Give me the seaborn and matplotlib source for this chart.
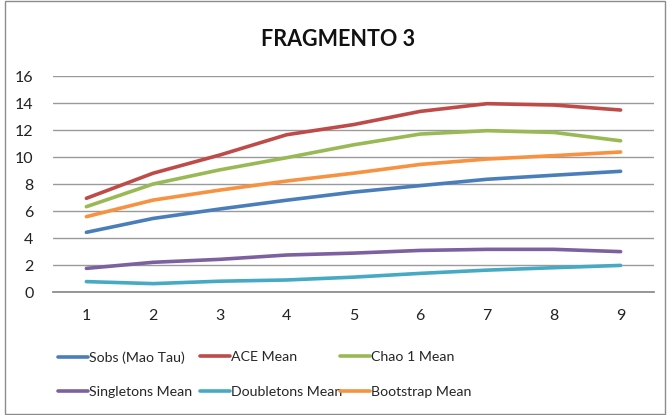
import pandas as pd
import matplotlib
matplotlib.use("Agg")
import matplotlib.pyplot as plt
from matplotlib.patches import Rectangle
import seaborn as sns

# ── data ────────────────────────────────────────────────────────────────────
muestras = [1, 2, 3, 4, 5, 6, 7, 8, 9]
sobs = [4.42, 5.45, 6.15, 6.8, 7.4, 7.88, 8.35, 8.65, 8.94]
ace = [6.94, 8.8, 10.15, 11.65, 12.4, 13.38, 13.95, 13.85, 13.48]
chao1 = [6.32, 8.0, 9.05, 9.95, 10.9, 11.7, 11.95, 11.82, 11.2]
singletons = [1.75, 2.2, 2.42, 2.74, 2.88, 3.08, 3.16, 3.16, 2.99]
doubletons = [0.77, 0.62, 0.8, 0.89, 1.1, 1.38, 1.62, 1.8, 1.97]
bootstrap = [5.58, 6.81, 7.55, 8.22, 8.8, 9.45, 9.85, 10.1, 10.37]

series = {
    "Sobs (Mao Tau)": sobs,
    "ACE Mean": ace,
    "Chao 1 Mean": chao1,
    "Singletons Mean": singletons,
    "Doubletons Mean": doubletons,
    "Bootstrap Mean": bootstrap,
}
colores = ["#4A7EBB", "#BE4B48", "#98B954", "#7D60A0", "#46AAC5", "#F69240"]

df = pd.DataFrame(
    [(x, nombre, v) for nombre, vals in series.items() for x, v in zip(muestras, vals)],
    columns=["muestra", "serie", "valor"],
)

sns.set_theme(style="white")
plt.rcParams["font.family"] = ["Lato", "DejaVu Sans"]

fig = plt.figure(figsize=(6.67, 4.15), dpi=100)
ax = fig.add_axes([53 / 667, 123 / 415, 601 / 667, 216 / 415])

sns.lineplot(data=df, x="muestra", y="valor", hue="serie",
             palette=colores, linewidth=2.6, ax=ax, legend=True)

ax.set_xlim(0.5, 9.5)
ax.set_ylim(0, 16)
ax.set_yticks(range(0, 17, 2))
ax.set_xticks(muestras)
ax.yaxis.grid(True, color="#9a9a9a", linewidth=1)
ax.set_axisbelow(True)
for s in ["top", "right", "left"]:
    ax.spines[s].set_visible(False)
ax.spines["bottom"].set_color("#8a8a8a")
ax.tick_params(axis="both", length=0, labelsize=11.5, colors="#222222")
ax.tick_params(axis="x", pad=12)
ax.tick_params(axis="y", pad=14)
ax.set_xlabel("")
ax.set_ylabel("")

# legend: three columns placed like Excel's layout
handles, labels = ax.get_legend_handles_labels()
ax.get_legend().remove()
columnas = [(0, 3), (1, 4), (2, 5)]
x_cols = [58, 200, 340]
for (a, b), xc in zip(columnas, x_cols):
    fig.legend([handles[a], handles[b]], [labels[a], labels[b]],
               loc="upper left", bbox_to_anchor=(xc / 667, 1 - 351 / 415),
               frameon=False, fontsize=10.2, handlelength=2.1, handletextpad=0.12,
               labelspacing=1.6, borderpad=0, borderaxespad=0)

fig.text(338 / 667, 1 - 40 / 415, "FRAGMENTO 3", ha="center", va="center",
         fontsize=15.5, fontweight="bold", color="#111111")

fig.patches.append(Rectangle((5 / 667, 0.003), 660 / 667, 0.994,
                             transform=fig.transFigure, fill=False,
                             edgecolor="#8c8c8c", linewidth=1))

fig.savefig("out.png", dpi=100)
